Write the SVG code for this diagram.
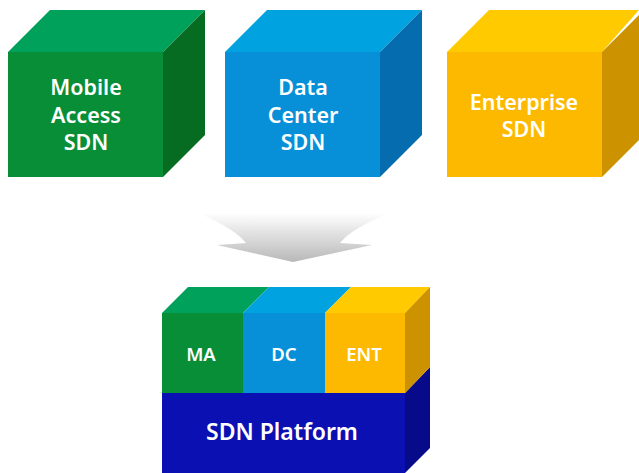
<svg xmlns="http://www.w3.org/2000/svg" width="639" height="473" viewBox="0 0 639 473">
<defs>
<linearGradient id="arrowGrad" x1="0" y1="0" x2="0" y2="1">
<stop offset="0" stop-color="#ffffff"/>
<stop offset="1" stop-color="#b8b8b8"/>
</linearGradient>
<style>
text{font-family:"Noto Sans","Open Sans","Liberation Sans",sans-serif;font-weight:600;fill:#ffffff;text-anchor:middle}
.big{font-size:21.5px}
.mid{font-size:18.5px}
.plat{font-size:23px}
.gF{fill:#078E37}.gT{fill:#00A15A}.gS{fill:#056C22}
.bF{fill:#078FD8}.bT{fill:#00A2DF}.bS{fill:#066CB0}
.yF{fill:#FDB900}.yT{fill:#FFCB00}.yS{fill:#CC9200}
.pF{fill:#0A10B2}.pS{fill:#070B8A}
</style>
</defs>
<rect width="639" height="473" fill="#ffffff"/>
<g id="mobile-access-sdn">
<polygon class="gT" points="8,52 50,10 205,10 163,52"/>
<polygon class="gS" points="163,52 205,10 205,135 163,177"/>
<rect class="gF" x="8" y="52" width="155" height="125"/>
<text class="big" x="86" y="95">Mobile</text>
<text class="big" x="86" y="123">Access</text>
<text class="big" x="86" y="150">SDN</text>
</g>
<g id="data-center-sdn">
<polygon class="bT" points="225,52 267,10 422,10 380,52"/>
<polygon class="bS" points="380,52 422,10 422,135 380,177"/>
<rect class="bF" x="225" y="52" width="155" height="125"/>
<text class="big" x="303" y="95">Data</text>
<text class="big" x="303" y="123">Center</text>
<text class="big" x="303" y="150">SDN</text>
</g>
<g id="enterprise-sdn">
<polygon class="yT" points="447,52 489,10 639,10 639,10 602,52"/>
<polygon class="yS" points="602,52 644,10 644,135 602,177"/>
<rect class="yF" x="447" y="52" width="155" height="125"/>
<text class="big" x="524" y="110">Enterprise</text>
<text class="big" x="524" y="137">SDN</text>
</g>
<g id="connectors">
<path d="M198,213 L390,213 Q352,228 340,243 L372,245 L293,262 L217,245 L246,243 Q234,228 198,213 Z" fill="url(#arrowGrad)"/>
</g>
<g id="sdn-platform">
<polygon class="pS" points="405,393 430,367 430,448 405,473"/>
<rect class="pF" x="162" y="393" width="243" height="80"/>
<text class="plat" x="282" y="440">SDN Platform</text>
</g>
<g id="ma">
<polygon class="gT" points="162,313 188,287 269,287 243,313"/>
<rect class="gF" x="162" y="313" width="81" height="80"/>
<text class="mid" x="201" y="361">MA</text>
</g>
<g id="dc">
<polygon class="bT" points="243,313 269,287 351,287 325,313"/>
<rect class="bF" x="243" y="313" width="82" height="80"/>
<text class="mid" x="284" y="361">DC</text>
</g>
<g id="ent">
<polygon class="yT" points="325,313 351,287 430,287 405,313"/>
<polygon class="yS" points="405,313 430,287 430,367 405,393"/>
<rect class="yF" x="325" y="313" width="80" height="80"/>
<text class="mid" x="364" y="361">ENT</text>
</g>
</svg>
